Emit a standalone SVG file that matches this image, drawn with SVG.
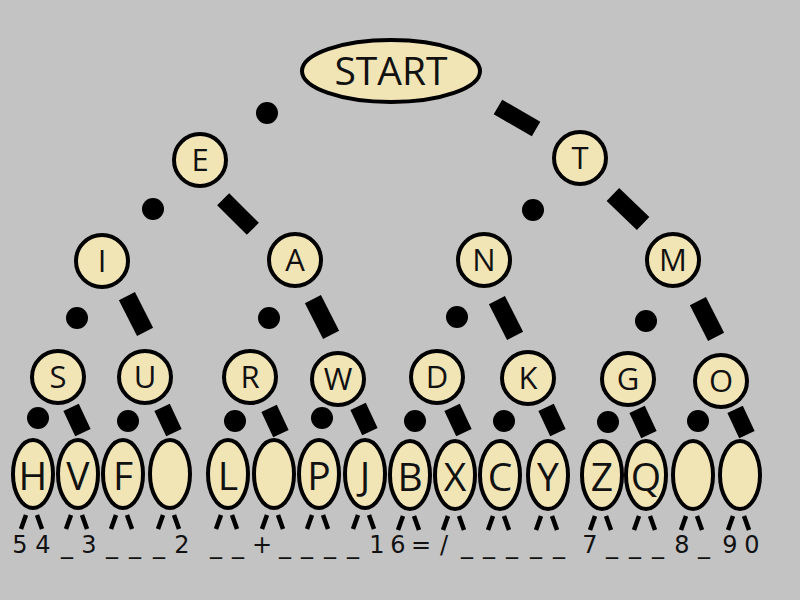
<svg xmlns="http://www.w3.org/2000/svg" width="800" height="600" viewBox="0 0 800 600">
<style>
.n{fill:#f2e5b5;stroke:#000;stroke-width:4}
.t{font-family:"Open Sans","Liberation Sans",sans-serif;text-anchor:middle;fill:#111}
.c{font-size:31px}
.e{font-size:39px}
.d{fill:#000}
.leg{stroke:#000;stroke-width:4.5;fill:none}
.b{font-family:"DejaVu Sans","Liberation Sans",sans-serif;font-size:24px;text-anchor:middle;fill:#111}
</style>
<rect width="800" height="600" fill="#c3c3c3"/>
<g id="connectors">
<circle class="d" cx="267" cy="113" r="11"/>
<rect class="d" x="-22" y="-8.5" width="44" height="17" transform="translate(517,118) rotate(30)"/>
<circle class="d" cx="153" cy="209" r="11"/>
<rect class="d" x="-21" y="-8.5" width="42" height="17" transform="translate(238,214) rotate(45)"/>
<circle class="d" cx="533" cy="210" r="11"/>
<rect class="d" x="-21" y="-9" width="42" height="18" transform="translate(628,209) rotate(44)"/>
<circle class="d" cx="77" cy="318" r="11"/>
<rect class="d" x="-20" y="-9" width="40" height="18" transform="translate(136,314) rotate(63)"/>
<circle class="d" cx="269" cy="318" r="11"/>
<rect class="d" x="-20" y="-9" width="40" height="18" transform="translate(322,317) rotate(63)"/>
<circle class="d" cx="457" cy="317" r="11"/>
<rect class="d" x="-20" y="-9" width="40" height="18" transform="translate(506,318) rotate(63)"/>
<circle class="d" cx="646" cy="321" r="11"/>
<rect class="d" x="-20" y="-9" width="40" height="18" transform="translate(707,319) rotate(63)"/>
<circle class="d" cx="38" cy="418" r="11"/>
<rect class="d" x="-14" y="-8.5" width="28" height="17" transform="translate(77,420) rotate(65)"/>
<circle class="d" cx="128" cy="421" r="11"/>
<rect class="d" x="-14" y="-8.5" width="28" height="17" transform="translate(168,420) rotate(65)"/>
<circle class="d" cx="235" cy="421" r="11"/>
<rect class="d" x="-14" y="-8.5" width="28" height="17" transform="translate(275,421) rotate(65)"/>
<circle class="d" cx="322" cy="418" r="11"/>
<rect class="d" x="-14" y="-8.5" width="28" height="17" transform="translate(364,419) rotate(65)"/>
<circle class="d" cx="415" cy="421" r="11"/>
<rect class="d" x="-14" y="-8.5" width="28" height="17" transform="translate(458,420) rotate(65)"/>
<circle class="d" cx="504" cy="421" r="11"/>
<rect class="d" x="-14" y="-8.5" width="28" height="17" transform="translate(552,420) rotate(65)"/>
<circle class="d" cx="608" cy="422" r="11"/>
<rect class="d" x="-14" y="-8.5" width="28" height="17" transform="translate(643,422) rotate(65)"/>
<circle class="d" cx="698" cy="421" r="11"/>
<rect class="d" x="-14" y="-8.5" width="28" height="17" transform="translate(741,422) rotate(65)"/>
</g>
<g id="start"><ellipse class="n" cx="391" cy="71" rx="89" ry="31"/><text class="t e" x="391" y="85">START</text></g>
<g id="E"><circle class="n" cx="200" cy="160" r="26"/><text class="t c" x="200" y="171">E</text></g>
<g id="T"><circle class="n" cx="580" cy="158" r="26"/><text class="t c" x="580" y="169">T</text></g>
<g id="I"><circle class="n" cx="102" cy="261" r="26"/><text class="t c" x="102" y="272">I</text></g>
<g id="A"><circle class="n" cx="295" cy="260" r="26"/><text class="t c" x="295" y="271">A</text></g>
<g id="N"><circle class="n" cx="484" cy="260" r="26"/><text class="t c" x="484" y="271">N</text></g>
<g id="M"><circle class="n" cx="673" cy="260" r="26"/><text class="t c" x="673" y="271">M</text></g>
<g id="S"><circle class="n" cx="58" cy="377" r="26"/><text class="t c" x="58" y="388">S</text></g>
<g id="U"><circle class="n" cx="145" cy="377" r="26"/><text class="t c" x="145" y="388">U</text></g>
<g id="R"><circle class="n" cx="250" cy="377" r="26"/><text class="t c" x="250" y="388">R</text></g>
<g id="W"><circle class="n" cx="338" cy="379" r="26"/><text class="t c" x="338" y="390">W</text></g>
<g id="D"><circle class="n" cx="437" cy="377" r="26"/><text class="t c" x="437" y="388">D</text></g>
<g id="K"><circle class="n" cx="528" cy="378" r="26"/><text class="t c" x="528" y="389">K</text></g>
<g id="G"><circle class="n" cx="628" cy="379" r="26"/><text class="t c" x="628" y="390">G</text></g>
<g id="O"><circle class="n" cx="721" cy="381" r="26"/><text class="t c" x="721" y="392">O</text></g>
<g id="H"><ellipse class="n" cx="33" cy="474" rx="20" ry="34"/><text class="t e" x="33" y="490">H</text></g>
<g id="V"><ellipse class="n" cx="78" cy="474" rx="20" ry="34"/><text class="t e" x="78" y="490">V</text></g>
<g id="F"><ellipse class="n" cx="123" cy="474" rx="20" ry="34"/><text class="t e" x="123" y="490">F</text></g>
<g id="blank1"><ellipse class="n" cx="170" cy="474" rx="20" ry="34"/></g>
<g id="L"><ellipse class="n" cx="228" cy="474" rx="20" ry="34"/><text class="t e" x="228" y="490">L</text></g>
<g id="blank2"><ellipse class="n" cx="274" cy="474" rx="20" ry="34"/></g>
<g id="P"><ellipse class="n" cx="319" cy="474" rx="20" ry="34"/><text class="t e" x="319" y="490">P</text></g>
<g id="J"><ellipse class="n" cx="365" cy="474" rx="20" ry="34"/><text class="t e" x="365" y="490">J</text></g>
<g id="B"><ellipse class="n" cx="410" cy="475" rx="20" ry="34"/><text class="t e" x="410" y="491">B</text></g>
<g id="X"><ellipse class="n" cx="455" cy="475" rx="20" ry="34"/><text class="t e" x="455" y="491">X</text></g>
<g id="C"><ellipse class="n" cx="500" cy="475" rx="20" ry="34"/><text class="t e" x="500" y="491">C</text></g>
<g id="Y"><ellipse class="n" cx="548" cy="475" rx="20" ry="34"/><text class="t e" x="548" y="491">Y</text></g>
<g id="Z"><ellipse class="n" cx="602" cy="475" rx="20" ry="34"/><text class="t e" x="602" y="491">Z</text></g>
<g id="Q"><ellipse class="n" cx="646" cy="475" rx="20" ry="34"/><text class="t e" x="646" y="491">Q</text></g>
<g id="blank3"><ellipse class="n" cx="693" cy="475" rx="20" ry="34"/></g>
<g id="blank4"><ellipse class="n" cx="740" cy="475" rx="20" ry="34"/></g>
<g id="legs" class="leg">
<path d="M26 515L21 529M37 515L42 529M71 515L66 529M82 515L87 529M116 515L111 529M127 515L132 529M163 515L158 529M174 515L179 529"/>
<path d="M221 515L216 529M232 515L237 529M267 515L262 529M278 515L283 529M312 515L307 529M323 515L328 529M358 515L353 529M369 515L374 529"/>
<path d="M403 516L398 530M414 516L419 530M448 516L443 530M459 516L464 530M493 516L488 530M504 516L509 530M541 516L536 530M552 516L557 530"/>
<path d="M595 516L590 530M606 516L611 530M639 516L634 530M650 516L655 530M686 516L681 530M697 516L702 530M733 516L728 530M744 516L749 530"/>
</g>
<g id="digits">
<text class="b" x="20" y="553">5</text><text class="b" x="43" y="553">4</text>
<text class="b" x="67" y="553">_</text><text class="b" x="89" y="553">3</text>
<text class="b" x="112" y="553">_</text><text class="b" x="135" y="553">_</text>
<text class="b" x="159" y="553">_</text><text class="b" x="182" y="553">2</text>
<text class="b" x="216" y="553">_</text><text class="b" x="238" y="553">_</text>
<text class="b" x="262" y="553">+</text><text class="b" x="285" y="553">_</text>
<text class="b" x="307" y="553">_</text><text class="b" x="330" y="553">_</text>
<text class="b" x="353" y="553">_</text><text class="b" x="377" y="553">1</text>
<text class="b" x="398" y="553">6</text><text class="b" x="421" y="553">=</text>
<text class="b" x="444" y="553">/</text><text class="b" x="467" y="553">_</text>
<text class="b" x="489" y="553">_</text><text class="b" x="512" y="553">_</text>
<text class="b" x="536" y="553">_</text><text class="b" x="559" y="553">_</text>
<text class="b" x="590" y="553">7</text><text class="b" x="612" y="553">_</text>
<text class="b" x="635" y="553">_</text><text class="b" x="658" y="553">_</text>
<text class="b" x="682" y="553">8</text><text class="b" x="704" y="553">_</text>
<text class="b" x="730" y="553">9</text><text class="b" x="752" y="553">0</text>
</g>
</svg>
